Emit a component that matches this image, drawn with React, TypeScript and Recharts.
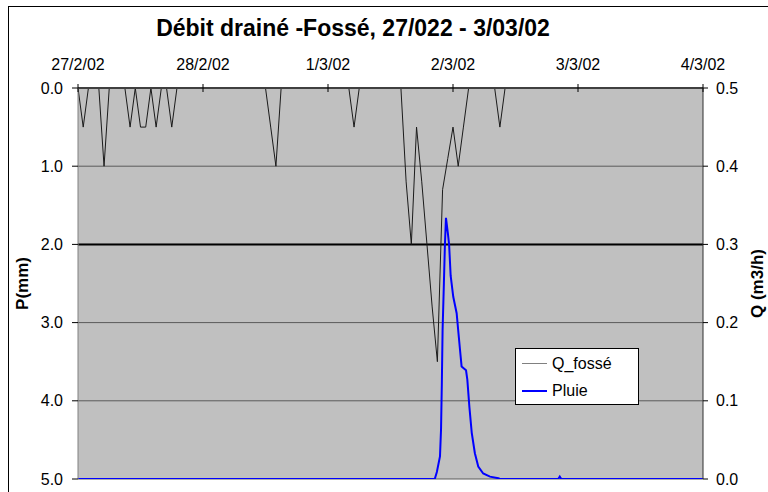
import React from 'react';
import { LineChart, Line, XAxis, YAxis, CartesianGrid, ReferenceLine, Legend } from 'recharts';

const FONT = '"Liberation Sans", Arial, sans-serif';

const dateTicks = [0, 24, 48, 72, 96, 120];
const dateLabels = ['27/2/02', '28/2/02', '1/3/02', '2/3/02', '3/3/02', '4/3/02'];
const pTicks = [0, 1, 2, 3, 4, 5];
const qTicks = [0, 0.1, 0.2, 0.3, 0.4, 0.5];
const seriesNames = ['Q_fossé', 'Pluie'];
const legendColors = ['#808080', '#0000ff'];

// black series (left axis, reversed) — hours since 27/2/02 00:00
const qFosseHours = [0, 1, 2, 4, 5, 6, 9, 10, 11, 12, 13, 14, 15, 16, 17, 18, 19, 36, 37, 38, 39, 52, 53, 54, 62, 63, 64, 65, 66, 67, 68, 69, 70, 71, 72, 73, 74, 75, 80, 81, 82, 120];
const qFosseValues = [0, 0.5, 0, 0, 1.0, 0, 0, 0.5, 0, 0.5, 0.5, 0, 0.5, 0, 0, 0.5, 0, 0, 0.5, 1.0, 0, 0, 0.5, 0, 0, 1.2, 2.0, 0.5, 1.2, 2.0, 2.8, 3.5, 1.3, 0.9, 0.5, 1.0, 0.5, 0, 0, 0.5, 0, 0];

// blue series (right axis)
const pluieHours = [0, 68.5, 68.9, 69.5, 69.7, 69.85, 70.0, 70.25, 70.45, 70.65, 71.0, 71.25, 71.55, 72.05, 72.7, 73.0, 73.35, 73.65, 74.5, 74.75, 75.15, 75.6, 76.2, 76.85, 77.8, 79.1, 80.7, 81.0, 92.2, 92.5, 92.8, 120];
const pluieValues = [0, 0, 0.009, 0.029, 0.063, 0.12, 0.19, 0.25, 0.3, 0.334, 0.315, 0.3, 0.26, 0.233, 0.212, 0.19, 0.165, 0.144, 0.139, 0.127, 0.092, 0.059, 0.033, 0.016, 0.007, 0.003, 0.001, 0, 0, 0.003, 0, 0];

const qFosseData = qFosseHours.map((h, i) => ({ h, v: qFosseValues[i] }));
const pluieData = pluieHours.map((h, i) => ({ h, v: pluieValues[i] }));

const TopTick = (props: any) => {
  const { x, y, payload } = props;
  const idx = dateTicks.indexOf(payload.value);
  return (
    <g>
      <line x1={x} x2={x} y1={y - 4} y2={y + 4} stroke="#000" strokeWidth={1} />
      <text x={x} y={y - 18} textAnchor="middle" fontFamily={FONT} fontSize={16} fill="#000">
        {dateLabels[idx]}
      </text>
    </g>
  );
};

const LegendBox = () => {
  return (
    <div
      style={{
        width: 122,
        height: 55,
        border: '1px solid #000',
        background: '#fff',
        fontFamily: FONT,
        fontSize: 16,
        color: '#000',
        boxSizing: 'content-box',
      }}
    >
      {seriesNames.map((name, i) => (
        <div key={name} style={{ display: 'flex', alignItems: 'center', height: 27, marginTop: i === 0 ? 1 : 0 }}>
          <div
            style={{
              marginLeft: 6,
              width: 25,
              height: i === 0 ? 1 : 2,
              background: legendColors[i],
            }}
          />
          <span style={{ marginLeft: 5 }}>{name}</span>
        </div>
      ))}
    </div>
  );
};

const LeftLabel = (props: any) => {
  const vb = props.viewBox;
  const cy = vb.y + vb.height / 2;
  return (
    <text
      x={22}
      y={cy}
      transform={`rotate(-90, 22, ${cy})`}
      textAnchor="middle"
      dominantBaseline="central"
      fontFamily={FONT}
      fontWeight="bold"
      fontSize={17}
      fill="#000"
    >
      P(mm)
    </text>
  );
};

const RightLabel = (props: any) => {
  const vb = props.viewBox;
  const cy = vb.y + vb.height / 2;
  const cx = vb.x + vb.width - 11;
  return (
    <text
      x={cx}
      y={cy}
      transform={`rotate(-90, ${cx}, ${cy})`}
      textAnchor="middle"
      dominantBaseline="central"
      fontFamily={FONT}
      fontWeight="bold"
      fontSize={17}
      fill="#000"
    >
      Q (m3/h)
    </text>
  );
};

export default function App() {
  return (
    <div style={{ position: 'absolute', left: 0, top: 0, width: 768, height: 492, overflow: 'hidden', background: '#fff' }}>
      <div
        style={{
          position: 'absolute',
          left: 8,
          top: 6,
          width: 800,
          height: 520,
          borderLeft: '1px solid #000',
          borderTop: '1px solid #000',
        }}
      />
      <div
        style={{
          position: 'absolute',
          left: 0,
          top: 15,
          width: 706,
          textAlign: 'center',
          fontFamily: FONT,
          fontWeight: 'bold',
          fontSize: 23,
          color: '#000',
          lineHeight: '26px',
        }}
      >
        Débit drainé -Fossé, 27/022 - 3/03/02
      </div>
      <div style={{ position: 'absolute', left: 0, top: 0 }}>
        <LineChart width={768} height={492} margin={{ top: 58, right: 0, bottom: 13, left: 0 }}>
          <CartesianGrid
            yAxisId="p"
            horizontal={true}
            vertical={false}
            stroke="#5a5a5a"
            fill="#c0c0c0"
            fillOpacity={1}
          />
          <XAxis
            dataKey="h"
            type="number"
            domain={[0, 120]}
            ticks={dateTicks}
            interval={0}
            orientation="top"
            height={30}
            tickSize={0}
            tickMargin={0}
            tick={<TopTick />}
            axisLine={{ stroke: '#404040', strokeWidth: 2 }}
            allowDataOverflow
          />
          <YAxis
            yAxisId="p"
            type="number"
            domain={[0, 5]}
            reversed
            ticks={pTicks}
            interval={0}
            width={78}
            tickSize={6}
            tickMargin={9}
            tickFormatter={(v: number) => v.toFixed(1)}
            tick={{ fill: '#000', fontSize: 16, fontFamily: FONT }}
            tickLine={{ stroke: '#000' }}
            axisLine={{ stroke: '#808080' }}
            label={{ content: <LeftLabel /> }}
            allowDataOverflow
          />
          <YAxis
            yAxisId="q"
            orientation="right"
            type="number"
            domain={[0, 0.5]}
            ticks={qTicks}
            interval={0}
            width={65}
            tickSize={5}
            tickMargin={8}
            tickFormatter={(v: number) => v.toFixed(1)}
            tick={{ fill: '#000', fontSize: 16, fontFamily: FONT }}
            tickLine={{ stroke: '#000' }}
            axisLine={{ stroke: '#303030' }}
            label={{ content: <RightLabel /> }}
            allowDataOverflow
          />
          <ReferenceLine yAxisId="p" y={2} stroke="#000" strokeWidth={2} />
          <Line
            yAxisId="p"
            data={qFosseData}
            dataKey="v"
            name={seriesNames[0]}
            type="linear"
            stroke="#1a1a1a"
            strokeWidth={1}
            dot={false}
            activeDot={false}
            isAnimationActive={false}
          />
          <Line
            yAxisId="q"
            data={pluieData}
            dataKey="v"
            name={seriesNames[1]}
            type="linear"
            stroke="#0000ff"
            strokeWidth={2}
            dot={false}
            activeDot={false}
            isAnimationActive={false}
          />
          <Legend
            layout="horizontal"
            verticalAlign="middle"
            align="center"
            wrapperStyle={{ left: 515, top: 348, width: 124, height: 57 }}
            content={<LegendBox />}
          />
        </LineChart>
      </div>
    </div>
  );
}
